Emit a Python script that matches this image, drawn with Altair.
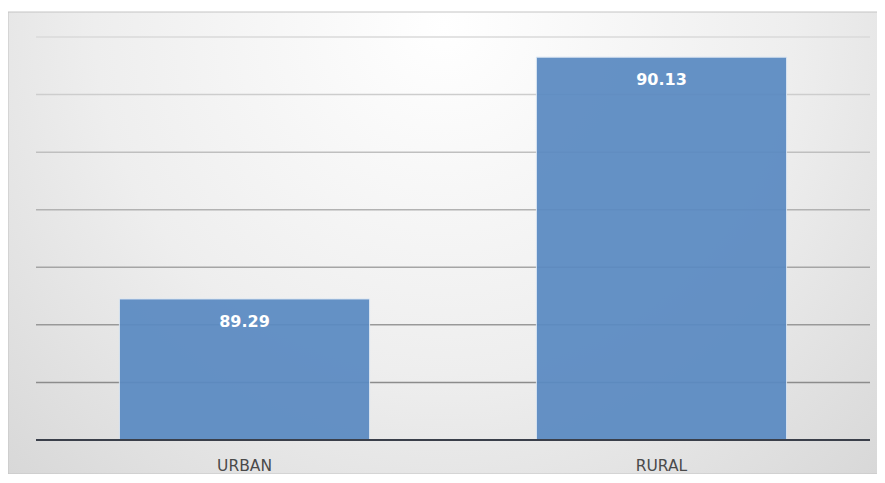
import altair as alt
import pandas as pd

categories = ["URBAN", "RURAL"]
values = [89.29, 90.13]
labels = ["89.29", "90.13"]
grid_values = [89.0, 89.2, 89.4, 89.6, 89.8, 90.0, 90.2]

df = pd.DataFrame({"cat": categories, "val": values, "lab": labels})
gdf = pd.DataFrame({"g": grid_values})

W, H = 834, 403
ymin, ymax = 88.8, 90.2
yscale = alt.Scale(domain=[ymin, ymax], zero=False, nice=False)

bg = alt.Chart(pd.DataFrame({"a": [0]})).mark_rect(
    stroke="#c4c4c4", strokeWidth=1,
    color=alt.RadialGradient(
        gradient="radial", x1=0.5, y1=0.25, x2=0.5, y2=0.25, r1=0, r2=0.8,
        stops=[alt.GradientStop(offset=0, color="#ffffff"),
               alt.GradientStop(offset=0.5, color="#eeeeee"),
               alt.GradientStop(offset=1, color="#d2d2d2")]),
).encode(x=alt.value(-28), x2=alt.value(W + 10), y=alt.value(-25), y2=alt.value(H + 34))

grid = alt.Chart(gdf).mark_rule(strokeWidth=1.5).encode(
    x=alt.value(0), x2=alt.value(W),
    y=alt.Y("g:Q", scale=yscale, axis=None),
    color=alt.Color("g:Q", scale=alt.Scale(domain=[89.0, 90.2], range=["#8c8c8c", "#dadada"]),
                    legend=None))

xenc = alt.X("cat:N", sort=categories, title=None,
             scale=alt.Scale(paddingInner=0.4, paddingOuter=0.2),
             axis=alt.Axis(labelAngle=0, labelFont="DejaVu Sans", labelFontSize=15.5,
                           labelColor="#4a4a4a", labelPadding=18, ticks=False,
                           domain=False, zindex=1))
yenc = alt.Y("val:Q", title=None, scale=yscale, axis=None)

bars = alt.Chart(df).mark_bar(color="#5a8ac2", opacity=0.93, stroke="#dbe6f3",
                              strokeWidth=1).encode(
    x=xenc, y=yenc, y2=alt.datum(ymin))

text = alt.Chart(df).mark_text(color="white", fontWeight="bold", fontSize=16,
                               font="DejaVu Sans", baseline="middle", dy=23).encode(
    x=alt.X("cat:N", sort=categories), y="val:Q", text="lab:N")

base_line = alt.Chart(pd.DataFrame({"a": [0]})).mark_rule(color="#3a3f4a", strokeWidth=2).encode(
    x=alt.value(0), x2=alt.value(W), y=alt.value(H))

chart = alt.layer(bg, grid, bars, text, base_line).properties(
    width=W, height=H,
    autosize=alt.AutoSizeParams(type="none"),
    padding={"left": 28, "top": 29, "right": 7, "bottom": 34},
).configure_view(stroke=None).configure(background="white")

chart.save("out.html", embed_options={"renderer": "svg", "actions": False})
